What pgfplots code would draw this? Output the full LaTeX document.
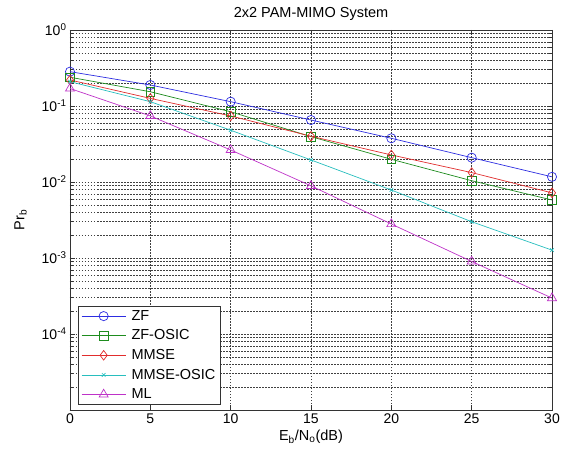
\documentclass[border=0pt]{standalone}
\usepackage{fontspec}
\setmainfont{Liberation Sans}
\usepackage{pgfplots}
\pgfplotsset{compat=1.18}

\definecolor{cZF}{RGB}{45,45,225}
\definecolor{cZFO}{RGB}{30,140,30}
\definecolor{cMMSE}{RGB}{225,45,45}
\definecolor{cMMSEO}{RGB}{40,190,190}
\definecolor{cML}{RGB}{190,50,200}

\begin{document}
\begin{tikzpicture}[font=\fontsize{14.5}{17}\selectfont]
\path[use as bounding box] (-70pt,-44pt) rectangle (492pt,410pt);
\begin{axis}[
  scale only axis, width=482pt, height=380pt,
  ymode=log, xmin=0, xmax=30, ymin=1e-5, ymax=1,
  xtick={0,5,...,30},
  ytick={1e-5,1e-4,1e-3,1e-2,1e-1,1},
  yticklabels={,10\textsuperscript{-4},10\textsuperscript{-3},10\textsuperscript{-2},10\textsuperscript{-1},10\textsuperscript{0}},
  /pgf/number format/assume math mode=true,
  every tick label/.append style={font=\fontsize{14}{17}\selectfont},
  label style={font=\fontsize{14.5}{17}\selectfont},
  title style={font=\fontsize{14.5}{17}\selectfont},
  tick align=inside, major tick length=5pt, minor tick length=3pt,
  tick style={black!80, line width=0.5pt},
  axis line style={black!80, line width=0.7pt},
  grid=major, yminorgrids=true,
  major grid style={black!75, line width=0.5pt, dash pattern=on 1.5pt off 1.5pt},
  minor grid style={black!75, line width=0.5pt, dash pattern=on 1.5pt off 1.5pt},
  title={2x2 PAM-MIMO System},
  xlabel={E\textsubscript{b}/N\textsubscript{o}(dB)},
  ylabel={Pr\textsubscript{b}},
  ylabel style={yshift=8pt},
  legend cell align=left,
  legend style={at={(rel axis cs:0.0166,0.0132)}, anchor=south west,
    draw=black!80, line width=0.6pt, row sep=3pt, column sep=3pt,
    font=\fontsize{14.5}{17}\selectfont,
    nodes={inner sep=2.5pt, line width=0.7pt}},
  legend image code/.code={\draw[mark repeat=2,mark phase=2,#1]
    plot coordinates {(0pt,0pt) (22pt,0pt) (44pt,0pt)};},
  every axis plot/.append style={line width=0.7pt, mark options={solid}},
]
\addplot[cZF, mark=o, mark size=4.6pt] coordinates {
  (0,0.283) (5,0.189) (10,0.114) (15,0.0654) (20,0.0376) (25,0.0209) (30,0.0117)};
\addlegendentry{ZF}
\addplot[cZFO, mark=square, mark size=4.3pt] coordinates {
  (0,0.239) (5,0.154) (10,0.084) (15,0.0395) (20,0.0199) (25,0.0104) (30,0.0058)};
\addlegendentry{ZF-OSIC}
\addplot[cMMSE, mark=diamond, mark size=4.8pt] coordinates {
  (0,0.220) (5,0.126) (10,0.074) (15,0.0400) (20,0.0227) (25,0.0133) (30,0.0072)};
\addlegendentry{MMSE}
\addplot[cMMSEO, mark=x, mark size=2.5pt] coordinates {
  (0,0.209) (5,0.114) (10,0.048) (15,0.0195) (20,0.00785) (25,0.0030) (30,0.00127)};
\addlegendentry{MMSE-OSIC}
\addplot[cML, mark=triangle, mark size=5.2pt] coordinates {
  (0,0.170) (5,0.074) (10,0.0264) (15,0.0089) (20,0.0028) (25,0.00090) (30,0.000297)};
\addlegendentry{ML}
\end{axis}
\end{tikzpicture}
\end{document}
